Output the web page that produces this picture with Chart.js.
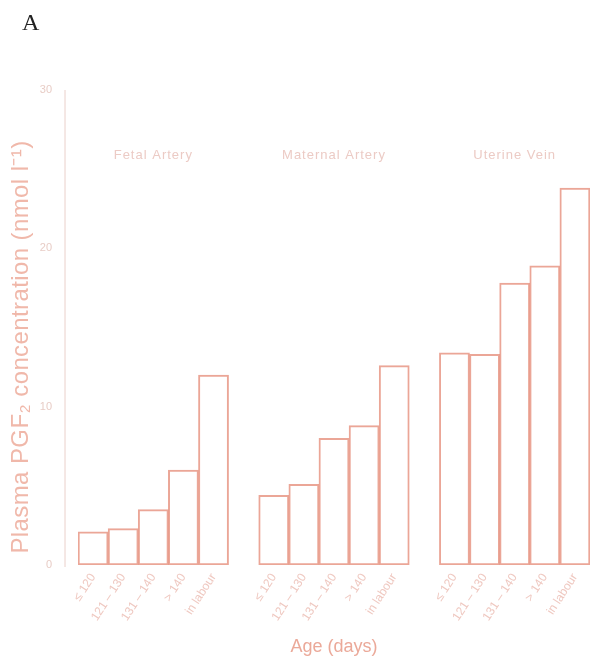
<!DOCTYPE html>
<html>
<head>
<meta charset="utf-8">
<script src="https://cdn.jsdelivr.net/npm/chart.js@4"></script>
<style>
  html, body { margin: 0; padding: 0; background: #fff; }
  #wrap { width: 593px; height: 664px; }
</style>
</head>
<body>
<div id="wrap"><canvas id="pgChart" width="593" height="664"></canvas></div>
<script>
const vessels = ['Fetal Artery', 'Maternal Artery', 'Uterine Vein'];
const ageGroups = ['≤ 120', '121 – 130', '131 – 140', '> 140', 'in labour'];
const fetalArtery = [2.1, 2.3, 3.5, 6.0, 12.0];
const maternalArtery = [4.4, 5.1, 8.0, 8.8, 12.6];
const uterineVein = [13.4, 13.3, 17.8, 18.9, 23.8];
const yTicks = [0, 10, 20, 30];
const yTitle = 'Plasma PGF₂ concentration (nmol l⁻¹)';

const pinkText = '#efc8c0';
const barLine = 'rgba(228,136,116,0.75)';

// one slot per bar, an empty slot between vessel groups
const labels = [...ageGroups, '', ...ageGroups, '', ...ageGroups];
const values = [...fetalArtery, null, ...maternalArtery, null, ...uterineVein];

const extras = {
  id: 'extras',
  afterDraw(chart) {
    const { ctx, chartArea, scales } = chart;
    const y = scales.y;
    const x = scales.x;
    ctx.save();
    // y axis line sits a bit left of the first bar
    ctx.strokeStyle = '#ead0ca';
    ctx.lineWidth = 1;
    ctx.beginPath();
    ctx.moveTo(chartArea.left - 13, y.getPixelForValue(30));
    ctx.lineTo(chartArea.left - 13, y.getPixelForValue(0) + 2);
    ctx.stroke();

    // y title, a bit lower than the scale would centre it
    ctx.save();
    ctx.translate(21, 347);
    ctx.rotate(-Math.PI / 2);
    ctx.fillStyle = '#f0b8aa';
    ctx.font = '24px "Liberation Sans", Arial, sans-serif';
    ctx.letterSpacing = '0.4px';
    ctx.textAlign = 'center';
    ctx.textBaseline = 'middle';
    ctx.fillText(yTitle, 0, 0);
    ctx.restore();

    // vessel names above each group
    ctx.fillStyle = '#eccbc5';
    ctx.font = '13px "Liberation Sans", Arial, sans-serif';
    ctx.letterSpacing = '1px';
    ctx.textAlign = 'center';
    ctx.textBaseline = 'middle';
    vessels.forEach((name, i) => {
      const cx = x.getPixelForValue(i * 6 + 2);
      ctx.fillText(name, cx, 155);
    });
    ctx.letterSpacing = '0px';

    // panel letter
    ctx.fillStyle = '#222';
    ctx.font = '24px "Liberation Serif", "DejaVu Serif", serif';
    ctx.textAlign = 'left';
    ctx.textBaseline = 'alphabetic';
    ctx.fillText('A', 22, 30);
    ctx.restore();
  },
};

new Chart(document.getElementById('pgChart'), {
  type: 'bar',
  data: {
    labels,
    datasets: [{
      data: values,
      backgroundColor: 'rgba(255,255,255,0)',
      borderColor: barLine,
      borderWidth: 1.3,
      borderSkipped: false,
      barPercentage: 1,
      categoryPercentage: 1,
    }],
  },
  options: {
    responsive: false,
    animation: false,
    layout: { padding: { top: 90, right: 0, bottom: 0, left: 0 } },
    plugins: {
      legend: { display: false },
      tooltip: { enabled: false },
    },
    scales: {
      x: {
        grid: { display: false, drawTicks: false },
        border: { display: false },
        ticks: {
          color: pinkText,
          font: { family: '"Liberation Sans", Arial, sans-serif', size: 12 },
          minRotation: 57,
          maxRotation: 57,
          autoSkip: false,
          padding: 6,
        },
        title: {
          display: true,
          text: 'Age (days)',
          color: '#eba999',
          font: { family: '"Liberation Sans", Arial, sans-serif', size: 18 },
          padding: { top: 2, bottom: 6 },
        },
        afterFit(scale) { scale.height = 99; },
      },
      y: {
        min: 0,
        max: 30,
        afterBuildTicks(scale) { scale.ticks = yTicks.map((v) => ({ value: v })); },
        grid: { display: false, drawTicks: false },
        border: { display: false },
        ticks: {
          color: '#e8cdc6',
          font: { family: '"Liberation Sans", Arial, sans-serif', size: 11 },
          padding: 26,
        },
        afterFit(scale) { scale.width = 78; },
      },
    },
  },
  plugins: [extras],
});
</script>
</body>
</html>
